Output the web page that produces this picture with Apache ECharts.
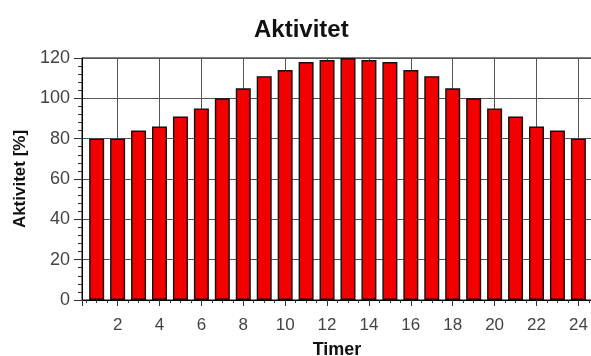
<!DOCTYPE html>
<html><head><meta charset="utf-8">
<script src="https://cdn.jsdelivr.net/npm/echarts@6/dist/echarts.min.js"></script>
<style>html,body{margin:0;padding:0;background:#fff}#c{width:591px;height:356px}</style>
</head><body><div id="c"></div>
<script>
const titleText = 'Aktivitet';
const xName = 'Timer';
const yName = 'Aktivitet [%]';
const hours = [1,2,3,4,5,6,7,8,9,10,11,12,13,14,15,16,17,18,19,20,21,22,23,24];
const activity = [80,80,84,86,91,95,100,105,111,114,118,119,120,119,118,114,111,105,100,95,91,86,84,80];
const xTickLabels = [2,4,6,8,10,12,14,16,18,20,22,24];
const yTickLabels = [0,20,40,60,80,100,120];

const chart = echarts.init(document.getElementById('c'), null, {renderer: 'canvas'});
const font = 'Liberation Sans';
chart.setOption({
  animation: false,
  backgroundColor: '#fff',
  title: {
    text: titleText, left: 249, top: 13,
    textStyle: {fontFamily: font, fontSize: 24, fontWeight: 'bold', color: '#111'}
  },
  grid: {left: 82, right: -1, top: 58, bottom: 56, containLabel: false, outerBoundsMode: 'none',
         show: true, borderColor: '#000', borderWidth: 1, backgroundColor: '#fff'},
  xAxis: {
    type: 'value', min: 0.3, max: 24.65, splitNumber: 12,
    name: xName, nameLocation: 'middle', nameGap: 41,
    nameTextStyle: {fontFamily: font, fontSize: 18, fontWeight: 'bold', color: '#111'},
    axisLine: {show: true, lineStyle: {color: '#000', width: 1}},
    axisTick: {show: true, inside: false, length: 6, lineStyle: {color: '#333'}},
    minorTick: {show: true, splitNumber: 4, length: 3, lineStyle: {color: '#333'}},
    axisLabel: {
      fontFamily: font, fontSize: 17, color: '#444', margin: 17,
      showMinLabel: false, showMaxLabel: false,
      formatter: v => xTickLabels.indexOf(Math.round(v * 100) / 100) >= 0 ? String(v) : ''
    },
    splitLine: {show: true, lineStyle: {color: '#555', width: 1}}
  },
  yAxis: {
    type: 'value', min: 0, max: 120, interval: 20,
    name: yName, nameLocation: 'middle', nameGap: 53, nameRotate: 90,
    nameTextStyle: {fontFamily: font, fontSize: 17, fontWeight: 'bold', color: '#111'},
    axisLine: {show: true, lineStyle: {color: '#000', width: 1}},
    axisTick: {show: true, inside: false, length: 8, lineStyle: {color: '#333'}},
    minorTick: {show: true, splitNumber: 5, length: 4, lineStyle: {color: '#333'}},
    axisLabel: {
      fontFamily: font, fontSize: 18, color: '#444', margin: 12,
      formatter: v => yTickLabels.indexOf(v) >= 0 ? String(v) : ''
    },
    splitLine: {show: true, lineStyle: {color: '#555', width: 1}}
  },
  series: [{
    type: 'bar',
    data: hours.map((h, i) => [h, activity[i]]),
    barWidth: 15,
    itemStyle: {color: '#f20000', borderColor: '#111', borderWidth: 1.4}
  }]
});
</script>
</body></html>
